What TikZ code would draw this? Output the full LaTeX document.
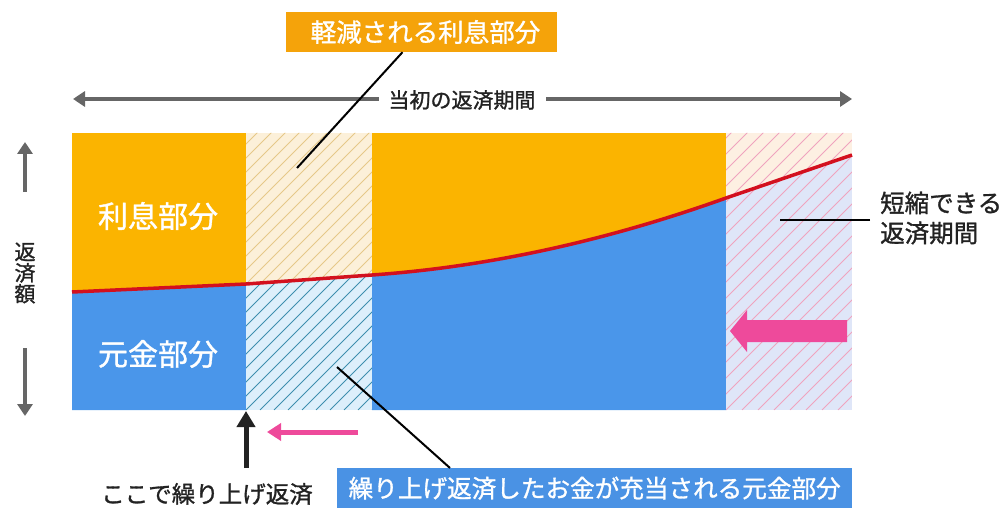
\documentclass[tikz,border=0pt]{standalone}
\usepackage{fontspec}
\setmainfont{Noto Sans CJK JP}[FakeBold=1.2]
\usetikzlibrary{arrows.meta}
\definecolor{orangeA}{HTML}{FBB400}
\definecolor{orangeB}{HTML}{F5A30A}
\definecolor{blueA}{HTML}{4A96EA}
\definecolor{blueB}{HTML}{4A92E4}
\definecolor{redC}{HTML}{D3101E}
\definecolor{creamA}{HTML}{FCF0D9}
\definecolor{tanA}{HTML}{E6C888}
\definecolor{lblueA}{HTML}{DDEFFB}
\definecolor{tealA}{HTML}{3E8FAE}
\definecolor{creamB}{HTML}{FDF0E2}
\definecolor{lavA}{HTML}{DFE6F8}
\definecolor{pinkL}{HTML}{F0A3BE}
\definecolor{pinkA}{HTML}{EE4A9B}
\definecolor{grayA}{HTML}{666666}
\definecolor{txtA}{HTML}{222222}
\tikzset{
  hatchline/.style={line width=1pt},
  bigfont/.style={font=\fontsize{30}{30}\selectfont},
  midfont/.style={font=\fontsize{24.5}{30}\selectfont},
  smallfont/.style={font=\fontsize{21}{21}\selectfont},
  labelbox/.style={inner sep=0pt, text=white},
  leader/.style={line width=2pt, black},
  grayarrow/.style={line width=4.5pt, grayA, -{Triangle[length=12pt,width=15pt]}},
  grayarrows/.style={line width=4.5pt, grayA, {Triangle[length=12pt,width=15pt]}-{Triangle[length=12pt,width=15pt]}},
}
\begin{document}
\begin{tikzpicture}[x=1pt,y=-1pt]
\useasboundingbox (0,0) rectangle (1004,508);
% ---- left solid block
\fill[orangeA] (72,133) rectangle (246,410);
\fill[blueA] (72,292) -- (246,284) -- (246,410) -- (72,410) -- cycle;
% ---- middle solid block
\fill[orangeA] (372,133) rectangle (726,410);
\fill[blueA] (372,275) .. controls (500,266) and (620,236) .. (726,198) -- (726,410) -- (372,410) -- cycle;
% ---- left hatched block
\begin{scope}
  \clip (246,133) rectangle (372,410);
  \begin{scope}
    \clip (72,133) -- (72,292) -- (246,284) -- (372,275) -- (372,133) -- cycle;
    \fill[creamA] (246,133) rectangle (372,410);
    \foreach \i in {-25,...,12} \draw[hatchline,tanA] (246+\i*14,410) -- ++(300,-300);
  \end{scope}
  \begin{scope}
    \clip (72,292) -- (246,284) -- (372,275) -- (372,410) -- (72,410) -- cycle;
    \fill[lblueA] (246,133) rectangle (372,410);
    \foreach \i in {-25,...,12} \draw[hatchline,tealA] (246+\i*14,410) -- ++(300,-300);
  \end{scope}
\end{scope}
% ---- right hatched block
\begin{scope}
  \clip (726,133) rectangle (852,410);
  \begin{scope}
    \clip (726,198) -- (852,155) -- (852,133) -- (726,133) -- cycle;
    \fill[creamB] (726,133) rectangle (852,410);
    \foreach \i in {-20,...,10} \draw[hatchline,pinkL] (726+\i*16,410) -- ++(300,-300);
  \end{scope}
  \begin{scope}
    \clip (726,198) -- (852,155) -- (852,410) -- (726,410) -- cycle;
    \fill[lavA] (726,133) rectangle (852,410);
    \foreach \i in {-20,...,10} \draw[hatchline,pinkL] (726+\i*16,410) -- ++(300,-300);
  \end{scope}
\end{scope}
% ---- red boundary curve
\draw[redC, line width=3.5pt, line join=round] (72,292) -- (246,284) -- (372,275) .. controls (500,266) and (620,236) .. (726,198) -- (852,155);
% ---- labels inside
\node[bigfont, text=white] (rishi) at (158,216) {利息部分};
\node[bigfont, text=white] (ganki) at (158,354) {元金部分};
% ---- initial repayment period arrow
\coordinate (perL) at (73,99);
\coordinate (perR) at (852,99);
\draw[grayarrows] (perL) -- (perR);
\node[smallfont, fill=white, text=txtA, inner xsep=10pt, inner ysep=2pt] (period) at (462,100) {当初の返済期間};
% ---- vertical axis label and arrows
\node[smallfont, text=txtA, align=center] (hensai) at (25,273) {返\\済\\額};
\coordinate (upS) at (25,192);
\coordinate (upT) at (25,142);
\coordinate (dnS) at (25,348);
\coordinate (dnT) at (25,416);
\draw[grayarrow, line width=4pt] (upS) -- (upT);
\draw[grayarrow, line width=4pt] (dnS) -- (dnT);
% ---- top callout
\node[labelbox, font=\fontsize{25.5}{25.5}\selectfont, fill=orangeB, minimum width=271pt, minimum height=40pt] (keigen) at (421.5,32) {\hspace*{8pt}軽減される利息部分};
\coordinate (keigenEnd) at (297,168);
\draw[leader] ([xshift=-19pt]keigen.south) -- (keigenEnd);
% ---- right callout
\node[midfont, text=txtA, align=left, anchor=west, inner sep=0pt] (tanshuku) at (880,218) {短縮できる\\返済期間};
\coordinate (tanEnd) at (780,220);
\draw[leader] ([xshift=-10pt,yshift=-2pt]tanshuku.west) -- (tanEnd);
% ---- big pink arrow
\fill[pinkA] (847,320) -- (747,320) -- (747,310) -- (730,331) -- (747,352) -- (747,342) -- (847,342) -- cycle;
% ---- small pink arrow
\coordinate (spS) at (358,432);
\coordinate (spT) at (267,432);
\draw[pinkA, line width=5pt, -{Triangle[length=14pt,width=17pt]}] (spS) -- (spT);
% ---- bottom left label and arrow
\node[font=\fontsize{23.5}{23.5}\selectfont, text=txtA] (koko) at (207,494) {ここで繰り上げ返済};
\coordinate (kokoS) at (246,468);
\coordinate (kokoT) at (246,411);
\draw[txtA, line width=5pt, -{Triangle[length=16pt,width=18pt]}] (kokoS) -- (kokoT);
% ---- bottom blue callout
\node[labelbox, font=\fontsize{24.6}{24.6}\selectfont, fill=blueB, minimum width=515pt, minimum height=40pt, anchor=north west] (juto) at (337,468) {繰り上げ返済したお金が充当される元金部分};
\coordinate (jutoEnd) at (337,367);
\draw[leader] ([xshift=113pt]juto.north west) -- (jutoEnd);
\end{tikzpicture}
\end{document}
